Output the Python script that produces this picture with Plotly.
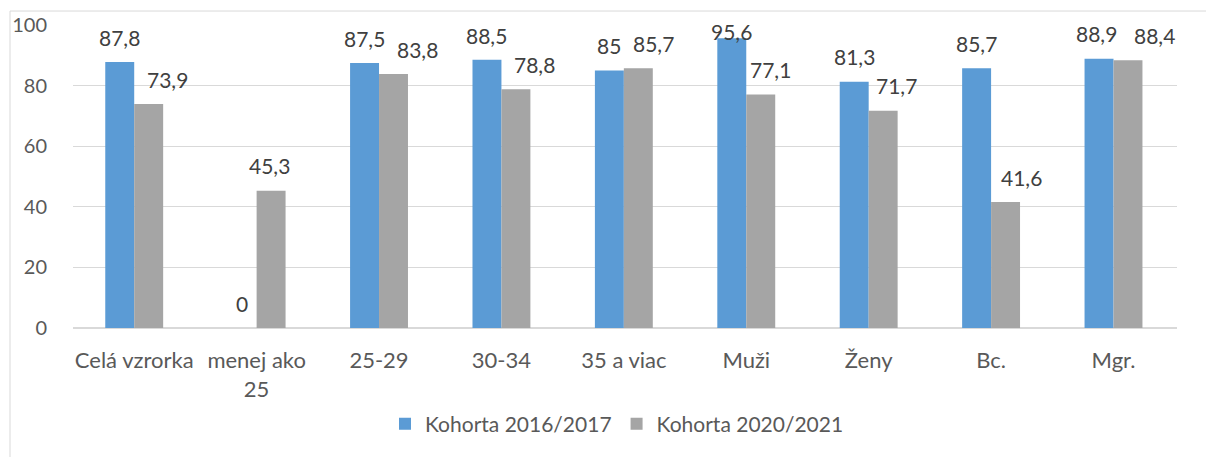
import plotly.graph_objects as go

categories = ["Celá vzrorka", "menej ako<br>25", "25-29", "30-34", "35 a viac", "Muži", "Ženy", "Bc.", "Mgr."]
series_names = ["Kohorta 2016/2017", "Kohorta 2020/2021"]
values_2016 = [87.8, 0, 87.5, 88.5, 85, 95.6, 81.3, 85.7, 88.9]
values_2020 = [73.9, 45.3, 83.8, 78.8, 85.7, 77.1, 71.7, 41.6, 88.4]
colors = ["#5B9BD5", "#A5A5A5"]
y_ticks = [0, 20, 40, 60, 80, 100]

# horizontal nudges of the data labels (pixels), as placed in the reference
label_dx_2016 = [0, 0, 0, 0, 0, 0, 0, 0, -3]
label_dx_2020 = [19, -1.5, 24, 19, 15.5, 10, 13.5, 15.5, 26.5]

W, H = 1206, 457
ML, MR, MT, MB = 73, 29, 24.5, 128.5
PW, PH = W - ML - MR, H - MT - MB
FONT = "Lato"
NUMSIZE = 21
TXTSIZE = 22

fig = go.Figure()
for name, vals, col in zip(series_names, [values_2016, values_2020], colors):
    fig.add_trace(go.Bar(x=categories, y=vals, name=name, marker=dict(color=col, line=dict(width=0))))

def fmt(v):
    return ("%g" % v).replace(".", ",")

for si, (vals, dxs) in enumerate([(values_2016, label_dx_2016), (values_2020, label_dx_2020)]):
    for ci, v in enumerate(vals):
        ly = min(v + 8.2, 98.0)
        fig.add_annotation(
            x=categories[ci], y=ly, xref="x", yref="y", text=fmt(v), showarrow=False,
            xshift=(-14.5 if si == 0 else 14.5) + dxs[ci], yanchor="middle",
            font=dict(family=FONT, size=NUMSIZE, color="#404040"),
        )

def px_to_paper_x(px):
    return (px - ML) / PW

def px_to_paper_y(py):
    return (H - MB - py) / PH

fig.add_shape(type="rect", xref="paper", yref="paper",
              x0=px_to_paper_x(10), x1=px_to_paper_x(1240),
              y0=px_to_paper_y(480), y1=px_to_paper_y(10.5),
              line=dict(color="#D9D9D9", width=1), fillcolor="rgba(0,0,0,0)", layer="below")

fig.update_layout(
    width=W, height=H,
    margin=dict(l=ML, r=MR, t=MT, b=MB, pad=0, autoexpand=False),
    paper_bgcolor="white", plot_bgcolor="white",
    barmode="group", bargap=0.527, bargroupgap=0,
    showlegend=True,
    legend=dict(orientation="h", x=px_to_paper_x(617), xanchor="center",
                y=px_to_paper_y(425), yanchor="middle",
                font=dict(family=FONT, size=TXTSIZE - 1, color="#595959"),
                itemwidth=30, traceorder="normal"),
    font=dict(family=FONT, size=TXTSIZE, color="#595959"),
    xaxis=dict(showgrid=False, showline=False, zeroline=False, ticks="", automargin=False,
               tickfont=dict(family=FONT, size=TXTSIZE, color="#595959"), ticklabelstandoff=17),
    yaxis=dict(range=[0, 100], tickvals=y_ticks, showgrid=True, gridcolor="#D9D9D9", gridwidth=1,
               zeroline=True, zerolinecolor="#D9D9D9", zerolinewidth=1.5, showline=False, ticks="",
               automargin=False,
               tickfont=dict(family=FONT, size=NUMSIZE - 1, color="#595959"), ticklabelstandoff=25),
)

fig.write_html("out.html", config={"displayModeBar": False})
with open("out.html", "r", encoding="utf-8") as f:
    html = f.read()
html = html.replace("<head>", "<head><style>html,body{margin:0;padding:0;overflow:hidden;}</style>", 1)
with open("out.html", "w", encoding="utf-8") as f:
    f.write(html)
